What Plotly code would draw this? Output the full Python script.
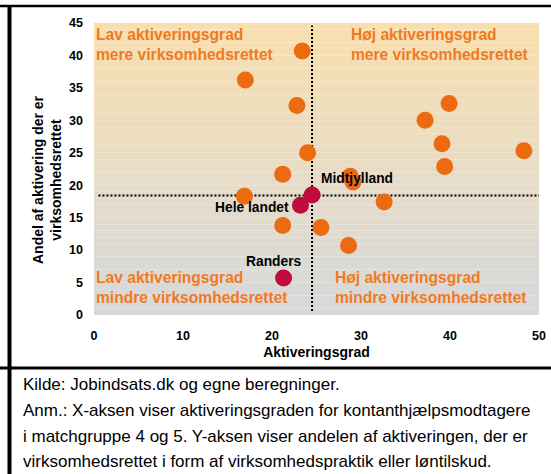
import plotly.graph_objects as go

# Kommuner (orange) - aktiveringsgrad og andel virksomhedsrettet
kommune_x = [23.4, 17.0, 22.8, 24.0, 21.2, 28.8, 29.1, 39.9, 37.2, 39.1, 48.3, 39.4,
             32.6, 16.9, 21.2, 25.5, 28.6]
kommune_y = [40.7, 36.2, 32.3, 25.0, 21.7, 21.4, 20.5, 32.6, 30.0, 26.4, 25.3, 22.9,
             17.4, 18.3, 13.8, 13.5, 10.7]

# Fremhævede enheder (rød)
fremh_navne = ["Midtjylland", "Hele landet", "Randers"]
fremh_x = [24.5, 23.2, 21.3]
fremh_y = [18.5, 16.9, 5.7]

# Gennemsnitslinjer
gns_x = 24.5
gns_y = 18.4

x_ticks = [0, 10, 20, 30, 40, 50]
y_ticks = [0, 5, 10, 15, 20, 25, 30, 35, 40, 45]

quadrant_labels = [
    "Lav aktiveringsgrad<br>mere virksomhedsrettet",
    "Høj aktiveringsgrad<br>mere virksomhedsrettet",
    "Lav aktiveringsgrad<br>mindre virksomhedsrettet",
    "Høj aktiveringsgrad<br>mindre virksomhedsrettet",
]

caption_lines = [
    "Kilde: Jobindsats.dk og egne beregninger.",
    "Anm.: X-aksen viser aktiveringsgraden for kontanthjælpsmodtagere",
    "i matchgruppe 4 og 5. Y-aksen viser andelen af aktiveringen, der er",
    "virksomhedsrettet i form af virksomhedspraktik eller løntilskud.",
]

ORANGE = "#EC6A10"
RED = "#C00C3C"
LABEL_ORANGE = "#F07A22"
FONT = "Liberation Sans"

fig = go.Figure()

fig.add_trace(go.Scatter(
    x=kommune_x, y=kommune_y, mode="markers",
    marker=dict(size=17, color=ORANGE), hoverinfo="skip", showlegend=False
))
fig.add_trace(go.Scatter(
    x=fremh_x, y=fremh_y, mode="markers",
    marker=dict(size=17, color=RED), hoverinfo="skip", showlegend=False
))

shapes = []

# baggrund med gradient (lys orange -> grå)
top_c = (249, 223, 175)
bot_c = (214, 217, 220)
n = 45
for i in range(n):
    t = i / (n - 1)
    c = tuple(round(top_c[k] + (bot_c[k] - top_c[k]) * t) for k in range(3))
    shapes.append(dict(
        type="rect", xref="x", yref="y", layer="below",
        x0=0, x1=50, y0=45 - 45 * (i + 1) / n, y1=45 - 45 * i / n,
        fillcolor="rgb(%d,%d,%d)" % c, line=dict(width=0)
    ))

# stiplede gennemsnitslinjer
shapes.append(dict(type="line", xref="x", yref="y", x0=0.5, x1=50, y0=gns_y, y1=gns_y,
                   line=dict(color="black", width=2, dash="2px,2px"), layer="below"))
shapes.append(dict(type="line", xref="x", yref="y", x0=gns_x, x1=gns_x, y0=0.6, y1=44.6,
                   line=dict(color="black", width=2, dash="2px,2px"), layer="below"))

# rammen
W, H = 551, 474
L, R, T, B = 94, 12, 23, 159
pw, ph = W - L - R, H - T - B


def px_x(px):
    return (px - L) / pw


def px_y(py):
    return (H - B - py) / ph


shapes.append(dict(type="line", xref="paper", yref="paper",
                   x0=px_x(9.5), x1=px_x(9.5), y0=px_y(5), y1=px_y(H + 2),
                   line=dict(color="black", width=4)))
shapes.append(dict(type="line", xref="paper", yref="paper",
                   x0=px_x(0), x1=px_x(W), y0=px_y(6), y1=px_y(6),
                   line=dict(color="black", width=2.5)))
shapes.append(dict(type="line", xref="paper", yref="paper",
                   x0=px_x(0), x1=px_x(W), y0=px_y(368), y1=px_y(368),
                   line=dict(color="black", width=3)))

annotations = []
qfont = dict(family=FONT, size=15.6, color=LABEL_ORANGE, weight="bold")
q_pos = [(0.0, 45, "top"), (28.6, 45, "top"), (0.0, 0.2, "bottom"), (26.9, 0.2, "bottom")]
for lab, (qx, qy, anchor) in zip(quadrant_labels, q_pos):
    annotations.append(dict(
        x=qx, y=qy, xref="x", yref="y", text=lab, showarrow=False,
        xanchor="left", yanchor=anchor, align="left", font=qfont,
        yshift=-1 if anchor == "top" else 6
    ))

lfont = dict(family=FONT, size=13.8, color="black", weight="bold")
annotations.append(dict(x=fremh_x[0], y=fremh_y[0], xref="x", yref="y", text=fremh_navne[0],
                        showarrow=False, xanchor="left", yanchor="middle", font=lfont,
                        xshift=7, yshift=16))
annotations.append(dict(x=fremh_x[1], y=fremh_y[1], xref="x", yref="y", text=fremh_navne[1],
                        showarrow=False, xanchor="right", yanchor="middle", font=lfont,
                        xshift=-9, yshift=-2))
annotations.append(dict(x=fremh_x[2], y=fremh_y[2], xref="x", yref="y", text=fremh_navne[2],
                        showarrow=False, xanchor="center", yanchor="middle", font=lfont,
                        xshift=-10, yshift=17))

# y-aksetitel
annotations.append(dict(x=px_x(47), y=px_y(180), xref="paper", yref="paper",
                        text="Andel af aktivering der er<br>virksomhedsrettet",
                        showarrow=False, textangle=-90, xanchor="center", yanchor="middle",
                        font=dict(family=FONT, size=14, color="black", weight="bold")))

# kilde og anmærkning, en linje ad gangen
line_centers = [384, 410, 436, 461]
for txt, cy in zip(caption_lines, line_centers):
    annotations.append(dict(x=px_x(21), y=px_y(cy), xref="paper", yref="paper",
                            text=txt, showarrow=False, xanchor="left", yanchor="middle",
                            align="left",
                            font=dict(family=FONT, size=17, color="black")))

fig.update_layout(
    width=W, height=H,
    margin=dict(l=L, r=R, t=T, b=B, pad=0, autoexpand=False),
    paper_bgcolor="white",
    plot_bgcolor="white",
    shapes=shapes,
    annotations=annotations,
    xaxis=dict(
        range=[0, 50], tickvals=x_ticks, showgrid=False, zeroline=False,
        showline=False, ticks="", fixedrange=True, ticklabelstandoff=11,
        tickfont=dict(family=FONT, size=12.5, color="black", weight="bold"),
        title=dict(text="Aktiveringsgrad", standoff=5,
                   font=dict(family=FONT, size=14, color="black", weight="bold")),
    ),
    yaxis=dict(
        range=[0, 45], tickvals=y_ticks, showgrid=False, zeroline=False,
        showline=False, ticks="", fixedrange=True, ticklabelstandoff=10,
        tickfont=dict(family=FONT, size=12.5, color="black", weight="bold"),
    ),
)

fig.write_html("out.html", config={"displayModeBar": False},
               post_script="document.body.style.margin='0';")
